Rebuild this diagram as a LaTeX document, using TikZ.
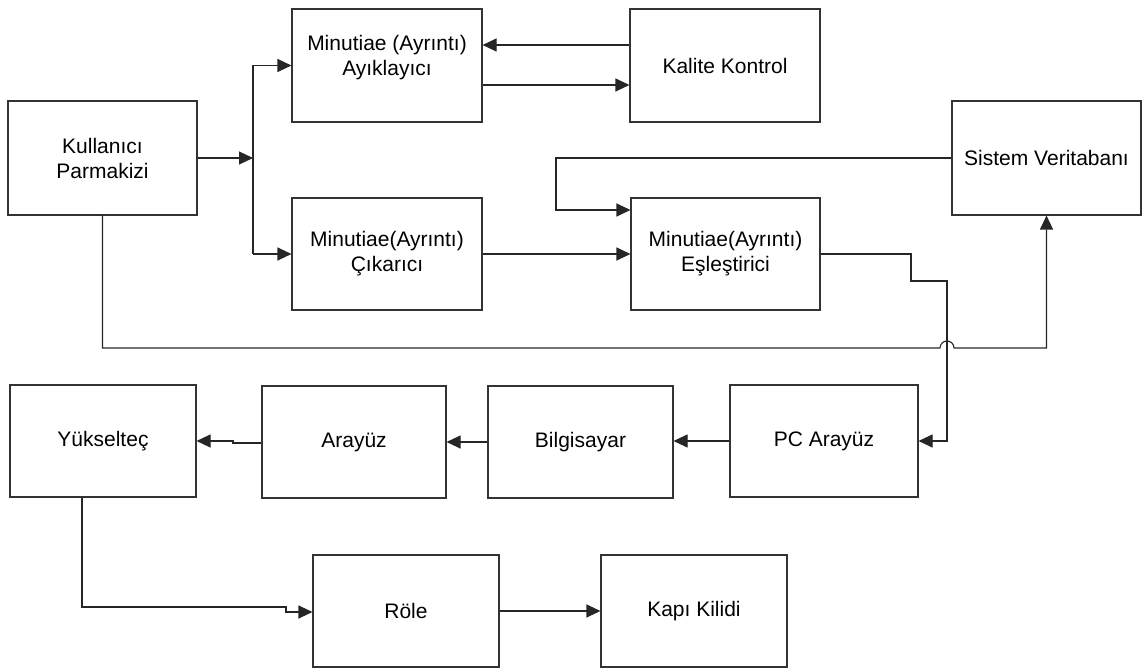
\documentclass[tikz,border=0pt]{standalone}
\usepackage{fontspec}
\setmainfont{Liberation Sans}
\usetikzlibrary{arrows.meta}
\begin{document}
\begin{tikzpicture}[x=0.5pt,y=-0.5pt,
  box/.style={draw=black!80, line width=0.55pt, rectangle, inner sep=0pt, align=center,
    font=\fontsize{10.5}{12.5}\selectfont},
  conn/.style={draw=black!85, line width=0.55pt},
  arr/.style={conn, -{Triangle[length=7pt,width=6.5pt]}}]
\useasboundingbox (0,0) rectangle (1146,668);
% boxes
\node[box, minimum width=94.5pt, minimum height=57pt] (kul) at (102.5,158) {Kullanıcı\\Parmakizi};
\node[box, minimum width=95pt, minimum height=56.5pt] (ayik) at (387,65.5) {};
\node[align=center, font=\fontsize{10.5}{12.5}\selectfont] (ayikt) at (387,58) {Minutiae (Ayrıntı)\\Ayıklayıcı};
\node[box, minimum width=95pt, minimum height=56.5pt] (kal) at (725,65.5) {Kalite Kontrol};
\node[box, minimum width=94.5pt, minimum height=57pt] (sis) at (1046.5,158) {Sistem Veritabanı};
\node[box, minimum width=95pt, minimum height=56pt] (cik) at (387,254) {Minutiae(Ayrıntı)\\Çıkarıcı};
\node[box, minimum width=94.5pt, minimum height=56pt] (esl) at (725.5,254) {Minutiae(Ayrıntı)\\Eşleştirici};
\node[box, minimum width=93pt, minimum height=56pt] (yuk) at (103,441) {Yükselteç};
\node[box, minimum width=92pt, minimum height=56pt] (ara) at (354,442) {Arayüz};
\node[box, minimum width=92.5pt, minimum height=56pt] (bil) at (580.5,442) {Bilgisayar};
\node[box, minimum width=94pt, minimum height=56pt] (pc) at (824,441) {PC Arayüz};
\node[box, minimum width=93pt, minimum height=56pt] (role) at (406,611) {Röle};
\node[box, minimum width=93pt, minimum height=56pt] (kapi) at (694,611) {Kapı Kilidi};
% helper coordinates
\coordinate (split) at (253,158);
\coordinate (yA) at (0,45);
\coordinate (yB) at (0,85);
\coordinate (sbA) at (556,158);
\coordinate (sbB) at (556,210);
\coordinate (pA) at (911,254);
\coordinate (pB) at (911,281);
\coordinate (pC) at (947,281);
\coordinate (pD) at (947,442);
\coordinate (kA) at (102.5,348);
\coordinate (hop) at (940,348);
\coordinate (kB) at (1046.5,348);
\coordinate (aA) at (233,443);
\coordinate (aB) at (233,441);
\coordinate (rA) at (82,607);
\coordinate (rB) at (286,607);
\coordinate (rC) at (286,612);
% connectors
\draw[arr] (kul.east) -- (split);
\draw[conn] (split |- ayik.west) -- (split |- cik.west);
\draw[arr] (split |- ayik.west) -- (ayik.west);
\draw[arr] (split |- cik.west) -- (cik.west);
\draw[arr] (kal.west |- yA) -- (ayik.east |- yA);
\draw[arr] (ayik.east |- yB) -- (kal.west |- yB);
\draw[arr] (sis.west) -- (sis.west -| sbA) |- (esl.west |- sbB);
\draw[arr] (cik.east) -- (esl.west |- cik.east);
\draw[arr] (esl.east) -- (esl.east -| pA) -- (pB) -- (pC) |- (pc.east);
\draw[arr] (kul.south) -- (kA) -- (hop) arc (180:360:7) -- (kB) -- (sis.south);
\draw[arr] (pc.west) -- (bil.east |- pc.west);
\draw[arr] (bil.west) -- (ara.east |- bil.west);
\draw[arr] (ara.west |- aA) -- (aA) -- (aB) -- (yuk.east |- aB);
\draw[arr] (yuk.south -| rA) -- (rA) -- (rB) -- (rC) -- (role.west |- rC);
\draw[arr] (role.east) -- (kapi.west);
\end{tikzpicture}
\end{document}
